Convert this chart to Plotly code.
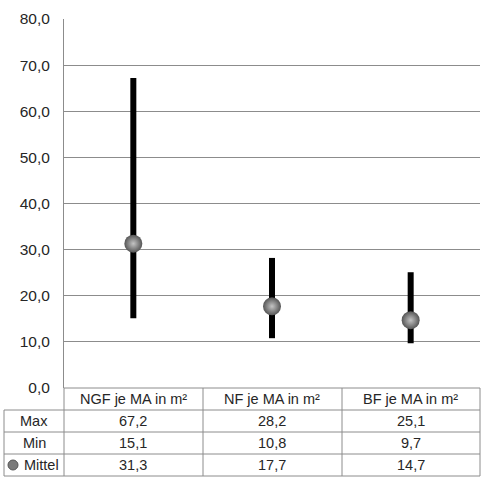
import plotly.graph_objects as go

categories = ["NGF je MA in m²", "NF je MA in m²", "BF je MA in m²"]
max_vals = [67.2, 28.2, 25.1]
min_vals = [15.1, 10.8, 9.7]
mean_vals = [31.3, 17.7, 14.7]
row_labels = ["Max", "Min", "Mittel"]
y_ticks = [0, 10, 20, 30, 40, 50, 60, 70, 80]

W, H = 483, 477
L, R, T, B = 64, 3, 19, 89
ph = H - T - B
pw = W - L - R

def py(px):
    return (H - B - px) / ph

def pxx(px):
    return (px - L) / pw

xs = [i + 0.5 for i in range(len(categories))]
grid = "#8c8c8c"
txt = "#262626"
FONT = "Liberation Sans, Arial, sans-serif"
sphere_edge = "#555555"
sphere_center = "#c4c4c4"

fig = go.Figure()
fig.add_trace(go.Scatter(
    x=xs, y=mean_vals, mode="markers",
    error_y=dict(type="data", symmetric=False,
                 array=[mx - m for mx, m in zip(max_vals, mean_vals)],
                 arrayminus=[m - mn for m, mn in zip(mean_vals, min_vals)],
                 thickness=6, width=0, color="black"),
    marker=dict(size=18, color=sphere_edge,
                gradient=dict(type="radial", color=sphere_center),
                line=dict(width=0)),
    showlegend=False, hoverinfo="skip",
))

shapes = []
line = dict(color=grid, width=1)
shapes.append(dict(type="line", xref="paper", yref="paper",
                   x0=pxx(64), x1=pxx(480), y0=py(388), y1=py(388), line=line))
for ypx in [410, 432, 454, 476]:
    shapes.append(dict(type="line", xref="paper", yref="paper",
                       x0=pxx(4), x1=pxx(480), y0=py(ypx), y1=py(ypx), line=line))
shapes.append(dict(type="line", xref="paper", yref="paper",
                   x0=pxx(4), x1=pxx(4), y0=py(410), y1=py(476), line=line))
for xpx in [64, 203, 342, 480]:
    shapes.append(dict(type="line", xref="paper", yref="paper",
                       x0=pxx(xpx), x1=pxx(xpx), y0=py(388), y1=py(476), line=line))
# legend key (sphere) in the Mittel row label
shapes.append(dict(type="circle", xref="paper", yref="paper",
                   x0=pxx(8), x1=pxx(18), y0=py(460), y1=py(470),
                   fillcolor="#7a7a7a", line=dict(color="#555555", width=1)))

def ann(x, y, xref, text):
    return dict(x=x, y=y, xref=xref, yref="paper", text=text, showarrow=False,
                xanchor="center", yanchor="middle",
                font=dict(size=14.5, color=txt, family=FONT))

annotations = []
for x, c in zip(xs, categories):
    annotations.append(ann(x, py(399), "x", c))
rows = [max_vals, min_vals, mean_vals]
row_y = [421, 443, 465]
for lbl, vals, ry in zip(row_labels, rows, row_y):
    lx = pxx(34) if lbl != "Mittel" else pxx(41)
    annotations.append(ann(lx, py(ry), "paper", lbl))
    for x, v in zip(xs, vals):
        annotations.append(ann(x, py(ry), "x", f"{v:.1f}".replace(".", ",")))

fig.update_layout(
    width=W, height=H,
    margin=dict(l=L, r=R, t=T, b=B, pad=0),
    paper_bgcolor="white", plot_bgcolor="white",
    separators=",.",
    font=dict(family=FONT, size=15, color=txt),
    xaxis=dict(range=[0, 3], showgrid=False, zeroline=False, showticklabels=False,
               ticks="", showline=False, fixedrange=True),
    yaxis=dict(range=[0, 80], tickvals=y_ticks, tickformat=".1f",
               showgrid=True, gridcolor=grid, gridwidth=1, zeroline=False,
               showline=True, linecolor=grid, linewidth=1, ticks="",
               ticklabelstandoff=10, tickfont=dict(size=15.5, color=txt)),
    shapes=shapes, annotations=annotations,
)

fig.write_html("out.html", config={"displayModeBar": False},
               post_script="document.body.style.margin='0';document.body.style.padding='0';document.body.style.overflow='hidden';")
